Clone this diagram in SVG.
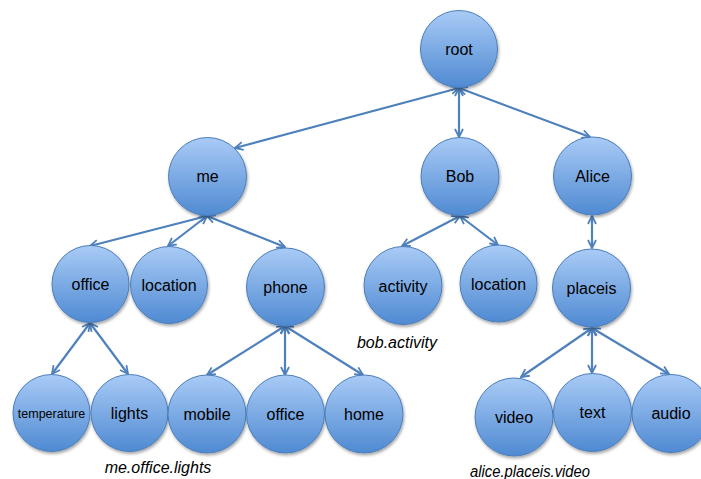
<svg xmlns="http://www.w3.org/2000/svg" width="701" height="479" viewBox="0 0 701 479">
  <defs>
    <linearGradient id="ball" x1="0" y1="0" x2="0" y2="1">
      <stop offset="0" stop-color="#a9cbf6"/>
      <stop offset="1" stop-color="#4f8ad2"/>
    </linearGradient>
    <filter id="shade" x="-20%" y="-20%" width="150%" height="150%">
      <feDropShadow dx="1" dy="2" stdDeviation="1.6" flood-color="#000" flood-opacity="0.35"/>
    </filter>
    <marker id="tip" viewBox="0 0 10 10" refX="9" refY="5" markerWidth="10" markerHeight="10" markerUnits="userSpaceOnUse" orient="auto-start-reverse">
      <path d="M1,1 L9,5 L1,9" fill="none" stroke="#4f81bd" stroke-width="1.8"/>
    </marker>
  </defs>
  <style>
    .node circle { fill: url(#ball); stroke: #4a7ebb; stroke-width: 1; filter: url(#shade); }
    .node text { font-family: "Liberation Sans", Arial, sans-serif; font-size: 16px; fill: #000; text-anchor: middle; }
    .node text.small { font-size: 12.5px; }
    .edges line { stroke: #4f81bd; stroke-width: 2.2; marker-start: url(#tip); marker-end: url(#tip); }
    .path { font-family: "Liberation Sans", Arial, sans-serif; font-size: 16px; font-style: italic; fill: #000; text-anchor: middle; }
  </style>

  <g class="edges">
    <line x1="459" y1="88" x2="235" y2="148"/>
    <line x1="459" y1="88" x2="459" y2="137"/>
    <line x1="459" y1="88" x2="590" y2="137"/>
    <line x1="207" y1="216" x2="90" y2="246"/>
    <line x1="207" y1="216" x2="168" y2="246"/>
    <line x1="207" y1="216" x2="285" y2="247"/>
    <line x1="460" y1="216" x2="402" y2="246"/>
    <line x1="460" y1="216" x2="498" y2="245"/>
    <line x1="592" y1="216" x2="592" y2="248"/>
    <line x1="90" y1="323" x2="52" y2="374"/>
    <line x1="90" y1="323" x2="128" y2="374"/>
    <line x1="285" y1="326" x2="207" y2="375"/>
    <line x1="285" y1="326" x2="285" y2="375"/>
    <line x1="285" y1="326" x2="363" y2="375"/>
    <line x1="592" y1="328" x2="521" y2="377"/>
    <line x1="592" y1="328" x2="592" y2="373"/>
    <line x1="592" y1="328" x2="669" y2="374"/>
  </g>

  <g id="root" class="node"><circle cx="459" cy="49" r="38.5"/><text x="459" y="55">root</text></g>
  <g id="me" class="node"><circle cx="207.5" cy="176.5" r="39"/><text x="207.5" y="182">me</text></g>
  <g id="bob" class="node"><circle cx="460" cy="176.5" r="39"/><text x="460" y="182">Bob</text></g>
  <g id="alice" class="node"><circle cx="592.5" cy="176" r="39"/><text x="592.5" y="182">Alice</text></g>

  <g id="me-office" class="node"><circle cx="90.5" cy="284" r="38.5"/><text x="90.5" y="290">office</text></g>
  <g id="me-location" class="node"><circle cx="169" cy="285" r="38.5"/><text x="169" y="291">location</text></g>
  <g id="me-phone" class="node"><circle cx="285.5" cy="287" r="39"/><text x="285.5" y="293">phone</text></g>
  <g id="bob-activity" class="node"><circle cx="403" cy="285.5" r="39"/><text x="403" y="292">activity</text></g>
  <g id="bob-location" class="node"><circle cx="498.5" cy="283.5" r="38.5"/><text x="498.5" y="290">location</text></g>
  <g id="alice-placeis" class="node"><circle cx="591.5" cy="288" r="39"/><text x="591.5" y="294">placeis</text></g>

  <g id="office-temperature" class="node"><circle cx="51.5" cy="413" r="38.5"/><text class="small" x="51.5" y="418">temperature</text></g>
  <g id="office-lights" class="node"><circle cx="129.5" cy="413" r="38.5"/><text x="129.5" y="419">lights</text></g>
  <g id="phone-mobile" class="node"><circle cx="207" cy="414" r="39"/><text x="207" y="420">mobile</text></g>
  <g id="phone-office" class="node"><circle cx="285.5" cy="414" r="39"/><text x="285.5" y="420">office</text></g>
  <g id="phone-home" class="node"><circle cx="364" cy="414" r="39"/><text x="364" y="420">home</text></g>
  <g id="placeis-video" class="node"><circle cx="514" cy="417" r="39"/><text x="514" y="423">video</text></g>
  <g id="placeis-text" class="node"><circle cx="592.5" cy="412.5" r="39"/><text x="592.5" y="418">text</text></g>
  <g id="placeis-audio" class="node"><circle cx="671" cy="413.5" r="39"/><text x="671" y="419">audio</text></g>

  <text class="path" x="158" y="473">me.office.lights</text>
  <text class="path" x="397" y="348">bob.activity</text>
  <text class="path" x="530" y="477" textLength="120" lengthAdjust="spacingAndGlyphs">alice.placeis.video</text>
</svg>
